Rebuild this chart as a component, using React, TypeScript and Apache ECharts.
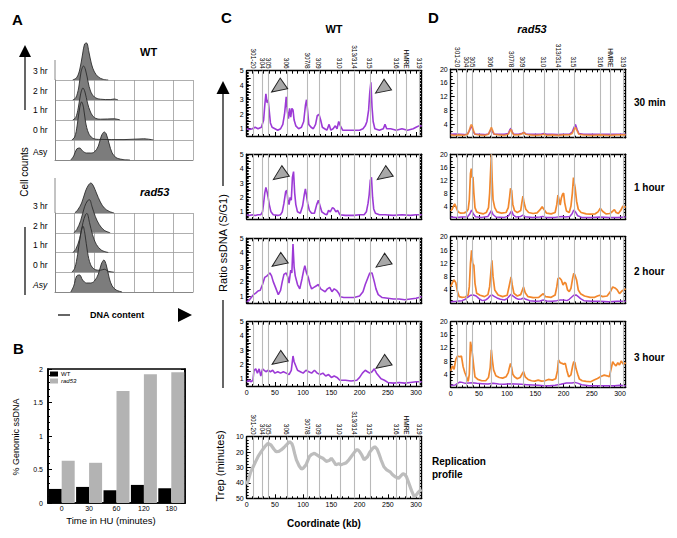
import React, { useEffect, useRef } from 'react';
import * as echarts from 'echarts';

const FONT = '"Liberation Sans", Arial, Helvetica, sans-serif';
const PURPLE = '#9c3ad6';
const ORANGE = '#f2872c';

// ---------- Panel A: FACS histograms (x: DNA content units 0..7, y: row units) ----------
const wtRowLabels = ['3 hr', '2 hr', '1 hr', '0 hr', 'Asy'];
const radRowLabels = ['3 hr', '2 hr', '1 hr', '0 hr', 'Asy'];
const wtHist3 = [[0.9,0],[1.1,0.12],[1.25,0.5],[1.4,1.3],[1.5,1.8],[1.6,1.85],[1.72,1.4],[1.85,0.8],[2.0,0.4],[2.2,0.15],[2.45,0.03],[2.7,0]];
const wtHist2 = [[0.9,0],[1.05,0.1],[1.2,0.6],[1.32,1.4],[1.45,1.7],[1.55,1.5],[1.68,0.9],[1.8,0.45],[2.0,0.15],[2.3,0.04],[2.8,0.02],[3.0,0.05],[3.2,0]];
const wtHist1 = [[0.9,0],[1.05,0.12],[1.18,0.6],[1.3,1.3],[1.42,1.6],[1.52,1.4],[1.65,0.85],[1.8,0.4],[2.0,0.12],[2.3,0.04],[3.0,0.06],[3.3,0]];
const wtHist0 = [[0.85,0],[1.0,0.15],[1.12,0.7],[1.25,1.6],[1.35,1.9],[1.45,1.6],[1.55,0.9],[1.7,0.35],[1.9,0.1],[2.2,0.03],[3.5,0.02],[4.5,0.06],[5,0]];
const wtHistAsy = [[0.8,0],[0.95,0.2],[1.1,0.55],[1.25,0.6],[1.4,0.45],[1.6,0.35],[1.8,0.35],[2.0,0.4],[2.2,0.7],[2.35,1.2],[2.5,1.4],[2.6,1.3],[2.75,0.8],[2.9,0.35],[3.1,0.12],[3.4,0.03],[3.8,0]];
const radHist3 = [[1.0,0],[1.15,0.15],[1.35,0.5],[1.55,1.1],[1.7,1.4],[1.82,1.5],[1.95,1.35],[2.1,1.0],[2.3,0.55],[2.5,0.25],[2.75,0.08],[3.0,0]];
const radHist2 = [[0.95,0],[1.1,0.15],[1.3,0.6],[1.5,1.3],[1.65,1.6],[1.75,1.65],[1.88,1.3],[2.05,0.8],[2.25,0.4],[2.5,0.12],[2.8,0]];
const radHist1 = [[0.9,0],[1.05,0.15],[1.25,0.7],[1.42,1.5],[1.55,1.9],[1.62,1.95],[1.75,1.5],[1.9,0.9],[2.1,0.4],[2.35,0.12],[2.7,0]];
const radHist0 = [[0.85,0],[1.0,0.2],[1.15,0.9],[1.3,1.9],[1.42,2.3],[1.52,1.9],[1.65,1.0],[1.8,0.4],[2.0,0.15],[2.3,0.1],[2.5,0.15],[2.7,0.05],[3.0,0]];
const radHistAsy = [[0.8,0],[0.95,0.3],[1.1,0.8],[1.25,0.85],[1.4,0.6],[1.6,0.45],[1.8,0.45],[2.0,0.55],[2.2,0.9],[2.35,1.4],[2.48,1.6],[2.6,1.35],[2.75,0.7],[2.9,0.3],[3.1,0.1],[3.4,0]];

// ---------- Panel B ----------
const bCategories = ['0', '30', '60', '120', '180'];
const bWT = [0.21, 0.24, 0.19, 0.27, 0.22];
const bRad53 = [0.63, 0.60, 1.67, 1.92, 1.95];

// ---------- ARS positions (kb) ----------
const arsPos = [0, 12, 28, 38, 71, 108, 128, 165, 191, 218, 265, 283, 306];
const arsNames = ['300', '301-20', '304', '305', '306', '307/8', '309', '310', '313/314', '315', '316', 'HMRE', '319'];

// ---------- Panel C: WT ssDNA ratio ----------
const wt30 = [[0,1.0],[5,0.95],[10,1.0],[15,1.1],[20,1.0],[26,1.1],[30,1.6],[32,2.6],[34,3.4],[36,2.8],[38,3.0],[40,2.2],[42,1.4],[45,1.1],[50,1.0],[55,0.9],[60,1.0],[64,1.3],[67,2.0],[70,3.2],[72,2.2],[74,1.7],[76,2.4],[78,1.8],[80,2.4],[82,2.3],[84,1.6],[87,1.2],[92,1.0],[97,1.1],[101,1.5],[104,2.6],[106,3.0],[108,2.2],[110,1.3],[114,1.1],[118,1.0],[122,1.3],[125,1.9],[128,2.0],[131,1.6],[134,1.1],[138,1.0],[142,0.9],[146,1.3],[149,0.9],[153,1.0],[157,1.2],[160,1.0],[163,1.5],[166,1.2],[170,0.9],[180,0.9],[190,0.9],[200,0.9],[206,1.0],[210,1.2],[213,1.5],[216,2.3],[218,3.5],[220,4.2],[222,2.5],[224,1.5],[227,1.0],[235,0.9],[242,1.0],[245,1.3],[248,1.0],[255,1.0],[265,0.9],[275,1.0],[285,0.9],[295,1.0],[300,1.1],[305,1.2],[310,1.2]];
const wt60 = [[0,0.8],[5,0.75],[10,0.8],[15,0.75],[20,0.8],[25,0.8],[28,1.0],[30,1.6],[32,2.3],[34,2.7],[36,2.4],[38,2.0],[40,1.5],[43,1.0],[47,0.8],[55,0.75],[60,0.8],[63,1.0],[66,1.6],[69,2.4],[71,2.5],[73,1.8],[75,1.5],[77,2.0],[79,1.8],[81,3.4],[83,3.8],[85,2.3],[87,1.5],[90,1.0],[95,0.9],[99,1.4],[102,2.2],[104,2.6],[106,2.1],[108,1.6],[111,1.1],[115,0.9],[120,0.9],[124,1.5],[127,1.8],[130,1.4],[133,1.0],[138,0.85],[142,0.8],[145,1.1],[148,1.0],[152,1.3],[155,1.2],[158,1.0],[161,1.1],[165,0.8],[175,0.75],[190,0.75],[200,0.8],[208,0.8],[212,1.0],[215,1.6],[217,2.2],[219,3.2],[221,3.4],[223,2.0],[225,1.2],[228,0.9],[235,0.8],[245,0.8],[260,0.75],[275,0.8],[290,0.75],[300,0.8],[310,0.8]];
const wt120 = [[0,0.6],[4,0.7],[8,0.9],[12,1.1],[16,1.2],[20,1.35],[24,1.4],[28,1.8],[32,2.3],[36,2.4],[41,2.6],[44,2.4],[47,2.0],[51,1.6],[56,1.1],[60,1.4],[63,2.0],[66,2.5],[70,2.6],[73,2.3],[75,1.9],[78,2.8],[80,2.6],[82,4.6],[84,3.0],[86,2.4],[90,1.8],[94,1.5],[98,2.2],[101,2.8],[103,3.1],[106,2.6],[109,2.3],[112,1.8],[115,1.5],[119,1.6],[123,1.7],[127,1.8],[131,1.5],[135,1.4],[139,1.3],[143,1.5],[147,1.6],[151,1.3],[155,1.5],[159,1.4],[163,1.2],[166,0.95],[172,0.9],[180,0.9],[190,0.9],[200,1.0],[206,1.3],[210,1.8],[214,2.2],[218,2.6],[222,2.6],[226,2.0],[229,1.5],[233,1.1],[240,0.9],[250,0.85],[260,0.8],[270,0.8],[280,0.75],[290,0.8],[300,0.85],[305,0.9],[310,0.95]];
const wt180 = [[0,0.8],[4,0.9],[8,0.8],[11,0.9],[13,1.6],[16,1.7],[19,1.4],[22,1.7],[25,1.2],[28,1.7],[31,1.6],[34,1.5],[38,1.6],[42,1.5],[46,1.6],[50,1.4],[55,1.5],[60,1.4],[65,1.5],[70,1.4],[75,1.3],[79,1.6],[82,2.6],[84,2.2],[87,1.9],[90,1.6],[95,1.5],[100,1.4],[105,1.6],[110,1.5],[115,1.4],[120,1.6],[125,1.4],[130,1.3],[135,1.4],[140,1.2],[145,1.3],[150,1.1],[155,1.2],[160,1.1],[165,0.9],[175,0.9],[185,0.85],[195,0.9],[200,1.1],[205,1.4],[210,1.6],[214,1.5],[218,1.4],[222,1.5],[226,1.7],[230,1.4],[234,1.2],[238,1.0],[244,0.9],[250,0.75],[260,0.7],[270,0.75],[280,0.7],[290,0.75],[300,0.8],[310,0.8]];
const wtArrows30 = [[55, 3.83], [239, 3.75]];
const wtArrows60 = [[58, 3.54], [242, 3.54]];
const wtArrows120 = [[56, 3.36], [240, 3.3]];
const wtArrows180 = [[56, 2.32], [240, 2.04]];

// replication profile (Trep, minutes)
const repProfile = [[0,41],[3,38],[7,33],[11.5,29.5],[16,26],[20,23],[26,19.5],[32,16.5],[37.6,14.3],[43,15.4],[48,18],[52,19.7],[57,19.5],[61,18.6],[66,17],[70,15.4],[76,13.2],[80,14.5],[82,16.5],[85,21],[88,25],[93,29],[97,31],[100,30.5],[105,28.3],[111,23],[115,21.5],[120,20.8],[125,22],[129,23],[135,24],[141,26],[146,25.5],[150,24],[154,26],[158,28.3],[163,27.5],[167,28.3],[172,27.5],[176,27],[181,25],[185,23],[190,20.5],[194,18.6],[197,18.5],[200,19.7],[204,22],[208,25],[211,24],[214,23],[218,20],[223,17.6],[227,16.5],[231,18],[234,20.8],[238,25],[243,29.5],[248,31.5],[254,32.8],[258,34.5],[263,36],[269,37],[273,35.5],[277,34],[280,34.5],[283,36],[287,40],[292,45],[296,48.5],[298,49],[301,47.5],[304,46],[307,45],[310,44.5]];

// ---------- Panel D: rad53 (orange) with WT (purple) ----------
const rad30 = [[0,0.8],[8,0.7],[16,0.8],[24,0.7],[30,1.0],[33,2.2],[36,3.8],[38,3.5],[40,2.2],[43,1.0],[50,0.8],[60,0.7],[67,1.0],[70,2.2],[72,3.0],[74,2.2],[77,1.0],[85,0.8],[95,0.7],[102,1.0],[105,2.0],[107,2.4],[109,1.5],[112,0.8],[120,0.8],[127,1.2],[130,1.5],[133,1.0],[140,0.8],[150,0.7],[160,0.8],[165,1.0],[170,0.7],[180,0.8],[190,0.7],[200,0.8],[210,0.8],[215,1.2],[218,2.2],[221,3.0],[224,2.0],[227,1.0],[235,0.8],[250,0.7],[265,0.8],[280,0.7],[295,0.8],[310,0.8]];
const wtD30 = [[0,1.0],[8,1.1],[16,1.0],[24,0.9],[30,1.1],[33,2.0],[36,3.2],[38,3.0],[40,1.8],[43,1.0],[50,1.0],[60,0.9],[67,1.1],[70,2.0],[72,2.6],[74,1.8],[77,1.0],[85,1.0],[95,1.0],[102,1.2],[105,2.4],[107,2.8],[109,1.6],[112,1.0],[120,1.0],[127,1.3],[130,1.6],[133,1.1],[140,1.0],[150,1.0],[160,1.0],[165,1.2],[170,1.0],[180,1.0],[190,0.9],[200,1.0],[210,1.0],[215,1.6],[218,2.8],[221,3.9],[224,2.4],[227,1.2],[235,1.0],[250,1.0],[265,1.0],[280,1.0],[295,1.0],[310,1.0]];
const rad60 = [[0,2.5],[3,3.2],[7,4.7],[10,3.5],[13,2.2],[18,1.8],[24,1.9],[28,2.2],[31,3.0],[33,6.0],[35,14.0],[36.5,15.6],[38,12.8],[39.5,13.0],[41,8.0],[43,3.5],[46,2.2],[52,1.8],[58,1.6],[63,2.0],[67,3.5],[69,8.0],[70.5,14.0],[72,20.0],[73.5,12.0],[75,6.0],[78,3.5],[82,2.2],[90,1.8],[98,2.0],[102,3.5],[104.5,7.0],[106,9.5],[108,8.8],[110,4.5],[113,2.6],[118,2.0],[124,2.6],[126,5.0],[128,7.1],[130,5.0],[133,3.0],[138,2.0],[146,1.7],[153,1.9],[158,2.8],[162,3.8],[165,3.0],[170,1.8],[178,1.6],[185,2.0],[188,4.5],[190,7.4],[192,6.0],[194,4.3],[196,6.5],[198,7.6],[200,8.0],[202,5.0],[205,2.5],[210,2.0],[213,4.0],[215.5,8.0],[217.5,12.8],[219,11.0],[220.5,9.5],[223,5.5],[226,3.0],[231,2.0],[240,1.6],[248,1.5],[256,1.6],[261,2.2],[265,3.3],[269,2.4],[275,1.6],[282,1.7],[287,2.4],[290,2.9],[293,2.0],[297,1.7],[301,2.6],[305,4.0],[310,3.6]];
const wtD60 = [[0,0.6],[10,0.5],[20,0.6],[30,0.7],[34,1.6],[37,2.8],[40,1.6],[44,0.7],[55,0.5],[66,0.8],[70,2.0],[72,2.6],[75,1.4],[80,0.6],[95,0.5],[102,0.9],[106,2.0],[108,2.5],[111,1.2],[116,0.6],[124,0.8],[128,1.2],[132,0.7],[145,0.5],[158,0.6],[163,0.8],[168,0.5],[185,0.5],[193,0.7],[198,0.8],[203,0.6],[211,0.8],[215,1.6],[218,2.8],[221,2.2],[225,1.0],[232,0.5],[250,0.5],[265,0.6],[280,0.5],[295,0.5],[310,0.6]];
const rad120 = [[0,5.0],[3,6.2],[6,7.0],[9,6.2],[12,3.5],[15,2.0],[20,1.8],[26,1.9],[31,2.5],[33,5.0],[35,12.0],[37,15.9],[39,12.0],[41,11.4],[43,6.0],[46,3.0],[52,2.4],[60,2.0],[66,2.6],[69,5.0],[71,9.0],[73,12.9],[75,8.0],[78,4.0],[84,2.5],[92,2.0],[100,2.4],[104,5.5],[107,7.9],[109,5.5],[112,3.0],[118,2.2],[124,2.6],[127,4.0],[129,4.9],[132,3.2],[137,2.0],[146,1.7],[156,1.8],[161,2.5],[164,2.9],[168,2.0],[178,1.8],[185,2.5],[188,5.0],[190,7.4],[193,7.6],[196,7.0],[199,5.5],[202,6.3],[204,6.0],[207,4.0],[210,3.5],[213,4.5],[216,7.5],[218,9.0],[220,8.5],[223,7.0],[226,4.0],[230,2.9],[237,2.2],[247,1.8],[255,1.8],[260,2.2],[264,2.4],[269,2.0],[277,2.2],[283,3.5],[287,4.9],[291,4.6],[295,4.0],[299,2.9],[304,3.8],[310,4.4]];
const wtD120 = [[0,0.5],[10,0.6],[20,0.8],[26,1.2],[30,1.8],[35,2.4],[40,2.5],[45,2.2],[50,1.4],[56,0.8],[62,1.0],[66,1.5],[70,2.3],[73,2.5],[77,2.1],[82,1.6],[88,1.2],[95,1.0],[100,1.4],[104,2.2],[107,2.7],[110,2.2],[115,1.6],[120,1.2],[125,1.3],[129,1.6],[133,1.2],[140,0.8],[150,0.6],[158,0.7],[164,1.0],[170,0.7],[180,0.6],[188,0.8],[194,1.0],[200,1.0],[206,0.8],[210,1.2],[214,1.8],[218,2.4],[222,2.5],[226,2.0],[230,1.4],[236,0.8],[250,0.6],[265,0.6],[280,0.5],[295,0.6],[310,0.6]];
const rad180 = [[0,5.0],[3,6.5],[6,5.5],[9,8.5],[12,9.5],[16,9.3],[19,9.5],[22,6.3],[25,4.5],[28,3.2],[31,1.8],[33,4.0],[35,13.9],[37,12.0],[39,9.3],[41,6.0],[43,3.2],[48,2.4],[55,2.0],[62,2.0],[67,3.0],[70,6.0],[72,11.4],[74,8.0],[76,5.3],[80,3.5],[86,3.0],[92,2.8],[98,3.2],[102,4.5],[104,6.0],[106,7.3],[108,6.0],[110,4.0],[113,3.2],[118,2.6],[123,3.0],[127,4.2],[129,4.8],[132,3.2],[137,2.4],[143,2.0],[149,1.9],[155,2.2],[161,1.9],[167,2.0],[173,2.4],[180,2.2],[186,2.6],[189,5.0],[191,8.3],[194,7.5],[197,7.3],[200,7.0],[203,7.3],[206,5.0],[209,3.2],[213,3.8],[216,6.5],[218,7.8],[220,7.5],[222,5.7],[225,4.0],[228,2.5],[233,2.0],[240,1.8],[248,1.7],[254,2.2],[260,2.7],[266,3.3],[272,3.7],[277,3.5],[281,3.2],[284,5.5],[287,7.8],[290,7.0],[293,6.5],[296,7.5],[299,6.8],[302,8.0],[306,7.0],[310,7.5]];
const wtD180 = [[0,0.6],[8,0.7],[12,1.2],[16,1.6],[20,1.5],[26,1.2],[32,1.3],[38,1.4],[46,1.2],[56,1.1],[66,1.0],[75,1.2],[85,1.0],[95,0.9],[105,1.1],[115,1.0],[125,0.9],[135,0.8],[145,0.7],[155,0.6],[165,0.5],[175,0.5],[185,0.6],[195,0.9],[205,1.3],[215,1.3],[220,1.5],[226,1.2],[232,0.8],[245,0.5],[260,0.5],[275,0.5],[290,0.5],[300,0.6],[310,0.5]];

function buildOption() {
  const grid: any[] = [];
  const xAxis: any[] = [];
  const yAxis: any[] = [];
  const series: any[] = [];
  const black = '#000';

  // ---------- Panel A ----------
  const histFrame = (top: number, height: number, rows: number) => {
    const gi = grid.push({ left: 55, top, width: 138, height }) - 1;
    const xi = xAxis.push({
      type: 'value', gridIndex: gi, min: 0, max: 7, interval: 1,
      axisLine: { show: true, lineStyle: { color: '#888', width: 1 } },
      axisTick: { show: false }, axisLabel: { show: false },
      splitLine: { show: true, lineStyle: { color: '#9a9a9a', width: 0.8 } },
    }) - 1;
    const yi = yAxis.push({
      type: 'value', gridIndex: gi, min: 0, max: rows, interval: 1,
      axisLine: { show: true, lineStyle: { color: '#888', width: 1 } },
      axisTick: { show: false }, axisLabel: { show: false },
      splitLine: { show: true, lineStyle: { color: '#9a9a9a', width: 0.8 } },
    }) - 1;
    series.push({ type: 'line', xAxisIndex: xi, yAxisIndex: yi, data: [], silent: true });
  };
  const histRow = (baseline: number, data: number[][]) => {
    const gi = grid.push({ left: 55, top: baseline - 60, width: 138, height: 60 }) - 1;
    const xi = xAxis.push({ type: 'value', gridIndex: gi, min: 0, max: 7, show: false }) - 1;
    const yi = yAxis.push({ type: 'value', gridIndex: gi, min: 0, max: 3, show: false }) - 1;
    series.push({
      type: 'line', xAxisIndex: xi, yAxisIndex: yi, data, smooth: 0.35, showSymbol: false, z: 5,
      lineStyle: { color: '#2b2b2b', width: 0.9 },
      areaStyle: { color: '#7c7c7c', opacity: 1 },
      silent: true,
    });
  };
  histFrame(80, 80, 4);
  const wtHists = [wtHist3, wtHist2, wtHist1, wtHist0, wtHistAsy];
  const wtBase = [80, 100, 120, 140, 160];
  wtHists.forEach((d, i) => histRow(wtBase[i], d));
  histFrame(213, 79, 4);
  const radHists = [radHist3, radHist2, radHist1, radHist0, radHistAsy];
  const radBase = [213, 232.75, 252.5, 272.25, 292];
  radHists.forEach((d, i) => histRow(radBase[i], d));

  // ---------- Panel B ----------
  const bg = grid.push({ left: 48, top: 369, width: 137, height: 134, show: true, borderColor: black, borderWidth: 1.6 }) - 1;
  const bx = xAxis.push({
    type: 'category', gridIndex: bg, data: bCategories,
    axisLine: { show: true, lineStyle: { color: black, width: 1.6 } },
    axisTick: { show: false },
    axisLabel: { fontSize: 7, color: black, margin: 2, fontFamily: FONT },
  }) - 1;
  const by = yAxis.push({
    type: 'value', gridIndex: bg, min: 0, max: 2, interval: 0.5,
    axisLine: { show: true, lineStyle: { color: black, width: 1.6 } },
    axisTick: { show: true, inside: true, length: 4, lineStyle: { color: black } },
    minorTick: { show: true, splitNumber: 5, length: 2, lineStyle: { color: black } },
    splitLine: { show: false },
    axisLabel: { fontSize: 7, color: black, margin: 5, fontFamily: FONT },
  }) - 1;
  const byr = yAxis.push({
    type: 'value', gridIndex: bg, min: 0, max: 2, interval: 0.5, position: 'right',
    axisLine: { show: true, lineStyle: { color: black, width: 1.6 } },
    axisTick: { show: true, inside: true, length: 4, lineStyle: { color: black } },
    minorTick: { show: true, splitNumber: 5, length: 2, lineStyle: { color: black } },
    splitLine: { show: false }, axisLabel: { show: false },
  }) - 1;
  series.push({ name: 'WT', type: 'bar', xAxisIndex: bx, yAxisIndex: by, data: bWT, barWidth: 13, barGap: '0%', itemStyle: { color: '#000' }, silent: true });
  series.push({ name: 'rad53', type: 'bar', xAxisIndex: bx, yAxisIndex: by, data: bRad53, barWidth: 13, barGap: '0%', itemStyle: { color: '#b3b3b3' }, silent: true });
  series.push({ type: 'line', xAxisIndex: bx, yAxisIndex: byr, data: [], silent: true });

  // ---------- Track panels (C and D) ----------
  const track = (left: number, top: number, height: number, y: any, bottomLabels: boolean, topLabels: boolean) => {
    const gi = grid.push({ left, top, width: 175, height }) - 1;
    const axisLine = { show: true, onZero: false, lineStyle: { color: black, width: 1.4 } };
    const xb = xAxis.push({
      type: 'value', gridIndex: gi, min: 0, max: 310, interval: 50, position: 'bottom',
      axisLine, axisTick: { show: true, inside: true, length: 4, lineStyle: { color: black } },
      minorTick: { show: true, splitNumber: 5, length: 2, lineStyle: { color: black } },
      splitLine: { show: false },
      axisLabel: { show: bottomLabels, fontSize: 7, color: black, margin: 3, showMaxLabel: false, fontFamily: FONT },
    }) - 1;
    xAxis.push({
      type: 'value', gridIndex: gi, min: 0, max: 310, interval: 10, position: 'top',
      axisLine, axisTick: { show: true, inside: true, length: 3, lineStyle: { color: black } },
      splitLine: { show: false },
      axisLabel: {
        show: topLabels, customValues: arsPos, rotate: 90, fontSize: 6.5, color: black, margin: 2, fontFamily: FONT,
        formatter: (v: number) => { const i = arsPos.indexOf(v); return i >= 0 ? arsNames[i] : ''; },
      },
    });
    const yl = yAxis.push({
      type: 'value', gridIndex: gi, min: y.min, max: y.max, interval: y.interval, inverse: !!y.inverse,
      axisLine, axisTick: { show: true, inside: true, length: 4, lineStyle: { color: black } },
      minorTick: { show: true, splitNumber: y.minor, length: 2, lineStyle: { color: black } },
      splitLine: { show: false },
      axisLabel: { fontSize: 7, color: black, margin: 3, formatter: y.formatter, showMinLabel: y.showMinLabel, fontFamily: FONT },
    }) - 1;
    yAxis.push({
      type: 'value', gridIndex: gi, min: y.min, max: y.max, interval: y.interval, inverse: !!y.inverse, position: 'right',
      axisLine, axisTick: { show: true, inside: true, length: 2, lineStyle: { color: black } },
      minorTick: { show: true, splitNumber: y.minor, length: 2, lineStyle: { color: black } },
      splitLine: { show: false }, axisLabel: { show: false },
    });
    series.push({
      type: 'line', xAxisIndex: xb, yAxisIndex: yl, data: [], silent: true, z: 1,
      markLine: {
        silent: true, symbol: ['none', 'none'], label: { show: false }, animation: false,
        lineStyle: { color: '#b9b9b9', width: 1.1, type: 'solid' },
        data: arsPos.slice(1).map((v) => ({ xAxis: v })),
      },
    });
    return { xb, yl };
  };

  const ratioY = { min: 0.5, max: 5, interval: 0.5, minor: 5, formatter: (v: number) => (Number.isInteger(v) ? String(v) : ''), showMinLabel: true };
  const dY = { min: 0, max: 20, interval: 4, minor: 4, formatter: (v: number) => String(v), showMinLabel: false };
  const repY = { min: 10, max: 50, interval: 10, minor: 5, inverse: true, formatter: (v: number) => String(v), showMinLabel: true };

  const cLeft = 246.7;
  const dLeft = 450.7;
  const cPanels = [
    { top: 70.7, h: 65.3, data: wt30, arrows: wtArrows30 },
    { top: 154.3, h: 64.7, data: wt60, arrows: wtArrows60 },
    { top: 238.3, h: 65, data: wt120, arrows: wtArrows120 },
    { top: 321.7, h: 64.3, data: wt180, arrows: wtArrows180 },
  ];
  cPanels.forEach((p, i) => {
    const ax = track(cLeft, p.top, p.h, ratioY, i === 3, i === 0);
    series.push({
      type: 'line', xAxisIndex: ax.xb, yAxisIndex: ax.yl, data: p.data, showSymbol: false, z: 3, silent: true,
      lineStyle: { color: PURPLE, width: 1.6 },
      markPoint: {
        symbol: 'triangle', symbolSize: [13, 15], symbolRotate: 125, silent: true, animation: false,
        itemStyle: { color: '#a8a8a8', borderColor: '#222', borderWidth: 1 },
        label: { show: false },
        data: p.arrows.map((c) => ({ coord: c })),
      },
    });
  });
  const rep = track(cLeft, 436.7, 61.6, repY, true, true);
  series.push({ type: 'line', xAxisIndex: rep.xb, yAxisIndex: rep.yl, data: repProfile, showSymbol: false, z: 3, silent: true, lineStyle: { color: '#bdbdbd', width: 3.2 } });

  const dPanels = [
    { top: 69.3, h: 68.4, rad: rad30, wt: wtD30 },
    { top: 154.3, h: 64.7, rad: rad60, wt: wtD60 },
    { top: 236.7, h: 66.6, rad: rad120, wt: wtD120 },
    { top: 321.7, h: 65.6, rad: rad180, wt: wtD180 },
  ];
  dPanels.forEach((p, i) => {
    const ax = track(dLeft, p.top, p.h, dY, i === 3, i === 0);
    series.push({ type: 'line', xAxisIndex: ax.xb, yAxisIndex: ax.yl, data: p.rad, showSymbol: false, z: i === 0 ? 5 : 3, silent: true, lineStyle: { color: ORANGE, width: 1.7, opacity: i === 0 ? 0.85 : 1 } });
    series.push({ type: 'line', xAxisIndex: ax.xb, yAxisIndex: ax.yl, data: p.wt, showSymbol: false, z: 4, silent: true, lineStyle: { color: PURPLE, width: 1.5 } });
  });

  // ---------- Graphic texts / arrows ----------
  const t = (text: string, x: number, y: number, o: any = {}) => ({
    type: 'text', x, y, rotation: o.rotation || 0, silent: true,
    style: {
      text, fill: '#000', fontFamily: FONT, fontSize: o.size || 9,
      fontWeight: o.weight || 'normal', fontStyle: o.style || 'normal',
      align: o.align || 'left', verticalAlign: 'middle',
    },
  });
  const graphic: any[] = [
    t('A', 12, 19, { size: 15, weight: 'bold' }),
    t('B', 13, 348, { size: 15, weight: 'bold' }),
    t('C', 221, 17, { size: 15, weight: 'bold' }),
    t('D', 428, 17, { size: 15, weight: 'bold' }),
    t('WT', 140, 52, { size: 11, weight: 'bold' }),
    t('rad53', 140, 192, { size: 11, weight: 'bold', style: 'italic' }),
    t('Cell counts', 24, 172, { size: 10, rotation: Math.PI / 2, align: 'center' }),
    t('DNA content', 90, 315, { size: 9, weight: 'bold' }),
    t('% Genomic ssDNA', 16, 437, { size: 9, rotation: Math.PI / 2, align: 'center' }),
    t('Time in HU (minutes)', 111, 520, { size: 9.5, align: 'center' }),
    t('WT', 334, 29, { size: 11, weight: 'bold', align: 'center' }),
    t('rad53', 532, 29, { size: 11, weight: 'bold', style: 'italic', align: 'center' }),
    t('Ratio ssDNA (S/G1)', 223, 243, { size: 11, rotation: Math.PI / 2, align: 'center' }),
    t('Trep (minutes)', 220, 466, { size: 11, rotation: Math.PI / 2, align: 'center' }),
    t('Coordinate (kb)', 324, 523, { size: 10, weight: 'bold', align: 'center' }),
    t('30 min', 634, 102, { size: 10, weight: 'bold' }),
    t('1 hour', 634, 187, { size: 10, weight: 'bold' }),
    t('2 hour', 634, 271, { size: 10, weight: 'bold' }),
    t('3 hour', 634, 357, { size: 10, weight: 'bold' }),
    t('Replication', 432, 461, { size: 10, weight: 'bold' }),
    t('profile', 432, 474, { size: 10, weight: 'bold' }),
    { type: 'line', silent: true, shape: { x1: 25, y1: 56, x2: 25, y2: 110 }, style: { stroke: '#000', lineWidth: 1.2 } },
    { type: 'polygon', silent: true, shape: { points: [[19, 57], [31, 57], [25, 45]] }, style: { fill: '#000' } },
    { type: 'line', silent: true, shape: { x1: 25, y1: 227, x2: 25, y2: 295 }, style: { stroke: '#000', lineWidth: 1.2 } },
    { type: 'line', silent: true, shape: { x1: 58, y1: 315, x2: 70, y2: 315 }, style: { stroke: '#000', lineWidth: 1.2 } },
    { type: 'polygon', silent: true, shape: { points: [[178, 308], [178, 322], [192, 315]] }, style: { fill: '#000' } },
    { type: 'line', silent: true, shape: { x1: 55, y1: 60, x2: 55, y2: 80 }, style: { stroke: '#888', lineWidth: 1 } },
    { type: 'line', silent: true, shape: { x1: 55, y1: 178, x2: 55, y2: 213 }, style: { stroke: '#888', lineWidth: 1 } },
    { type: 'line', silent: true, shape: { x1: 223, y1: 94, x2: 223, y2: 186 }, style: { stroke: '#000', lineWidth: 1.2 } },
    { type: 'polygon', silent: true, shape: { points: [[216.5, 94], [229.5, 94], [223, 81]] }, style: { fill: '#000' } },
    { type: 'line', silent: true, shape: { x1: 223, y1: 300, x2: 223, y2: 388 }, style: { stroke: '#000', lineWidth: 1.2 } },
  ];
  wtRowLabels.forEach((s, i) => graphic.push(t(s, 33, [71, 91, 110, 130, 151.5][i], { size: 8.5 })));
  radRowLabels.forEach((s, i) => graphic.push(t(s, 33, [206, 225.5, 245, 265, 284.5][i], { size: 8.5, style: i === 4 ? 'italic' : 'normal' })));

  return {
    animation: false,
    backgroundColor: '#fff',
    textStyle: { fontFamily: FONT },
    grid, xAxis, yAxis, series, graphic,
    legend: {
      data: ['WT', 'rad53'], orient: 'vertical', left: 50, top: 371, itemWidth: 8, itemHeight: 5, itemGap: 1, padding: 0,
      icon: 'rect', selectedMode: false,
      textStyle: { fontSize: 6, color: '#000', fontFamily: FONT, padding: [0, 0, 0, -2], rich: { i: { fontStyle: 'italic', fontSize: 6 } } },
      formatter: (n: string) => (n === 'rad53' ? `{i|${n}}` : n),
    },
  };
}

export default function App() {
  const ref = useRef<HTMLDivElement>(null);
  useEffect(() => {
    if (!ref.current) return;
    const chart = echarts.init(ref.current, undefined, { renderer: 'svg' });
    chart.setOption(buildOption() as any);
    return () => chart.dispose();
  }, []);
  return <div ref={ref} style={{ position: 'absolute', left: 0, top: 0, width: 677, height: 538, background: '#fff' }} />;
}
